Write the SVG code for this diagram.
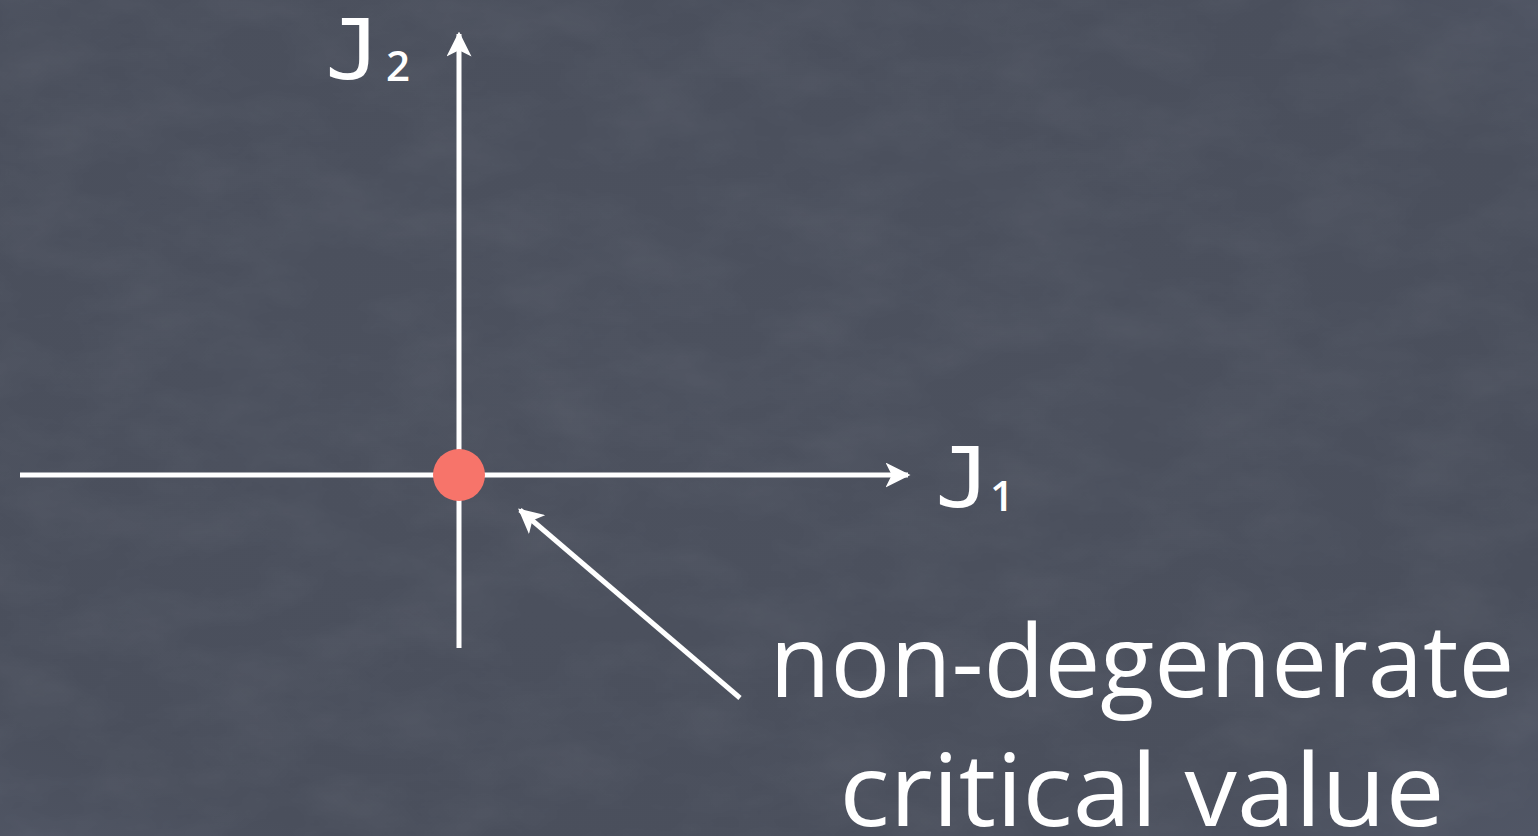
<svg xmlns="http://www.w3.org/2000/svg" width="1538" height="836" viewBox="0 0 1538 836">
<style>
.ax{stroke:#ffffff;stroke-width:5;fill:none;stroke-linecap:butt}
.t{fill:#ffffff;font-family:"Open Sans","DejaVu Sans",sans-serif}
.s{fill:#ffffff;font-family:"Open Sans","DejaVu Sans",sans-serif;font-weight:600}
.j{fill:#ffffff;font-family:"DejaVu Sans Mono","Liberation Mono",monospace}
</style>
<defs>
<marker id="ah" viewBox="0 0 10 10" refX="9" refY="5" markerWidth="5" markerHeight="5" orient="auto" markerUnits="strokeWidth">
<path d="M0,0 L10,5 L0,10 L2.5,5 Z" fill="#ffffff"/>
</marker>
<radialGradient id="bg" cx="0.45" cy="0.45" r="0.85">
<stop offset="0" stop-color="#4c515e"/>
<stop offset="0.7" stop-color="#4a4f5c"/>
<stop offset="1" stop-color="#535969"/>
</radialGradient>
<filter id="chalk" x="0" y="0" width="100%" height="100%">
<feTurbulence type="fractalNoise" baseFrequency="0.01 0.02" numOctaves="5" seed="3"/>
<feColorMatrix type="matrix" values="0 0 0 0 0.6  0 0 0 0 0.63  0 0 0 0 0.7  0 0 0 0.3 -0.1"/>
</filter>
</defs>
<rect x="0" y="0" width="1538" height="836" fill="url(#bg)"/>
<rect x="0" y="0" width="1538" height="836" filter="url(#chalk)" opacity="0.35"/>
<g id="connectors">
<line class="ax" x1="20" y1="475" x2="908" y2="475" marker-end="url(#ah)"/>
<line class="ax" x1="459" y1="648" x2="459" y2="34" marker-end="url(#ah)"/>
<line class="ax" x1="740" y1="698" x2="520" y2="510" marker-end="url(#ah)"/>
</g>
<g id="critical-point">
<circle cx="459" cy="475" r="26" fill="#f7746a"/>
</g>
<g id="label-J2">
<text class="j" x="325" y="79" font-size="84" textLength="56" lengthAdjust="spacingAndGlyphs">J</text>
<text class="s" x="386" y="81" font-size="42">2</text>
</g>
<g id="label-J1">
<text class="j" x="935" y="507" font-size="84" textLength="56" lengthAdjust="spacingAndGlyphs">J</text>
<text class="s" x="990" y="511" font-size="42">1</text>
</g>
<g id="label-critical">
<text class="t" x="1142" y="697" font-size="100" text-anchor="middle" textLength="745" lengthAdjust="spacingAndGlyphs">non-degenerate</text>
<text class="t" x="1142" y="826" font-size="100" text-anchor="middle" textLength="605" lengthAdjust="spacingAndGlyphs">critical value</text>
</g>
</svg>
